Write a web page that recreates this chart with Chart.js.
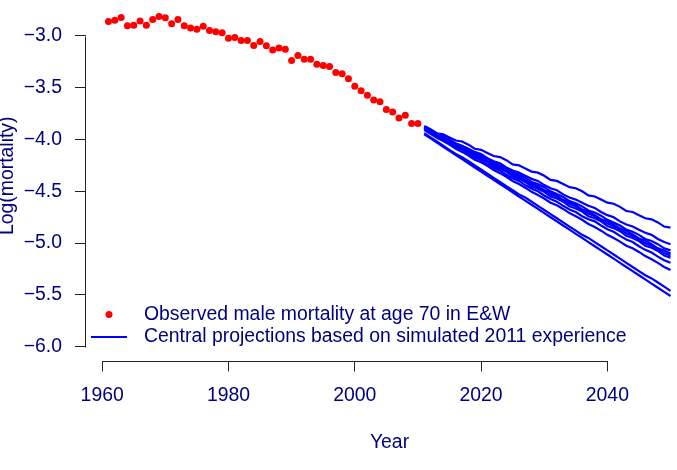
<!DOCTYPE html>
<html>
<head>
<meta charset="utf-8">
<script src="https://cdn.jsdelivr.net/npm/chart.js@4.4.1/dist/chart.umd.min.js"></script>
<style>
  html, body { margin: 0; padding: 0; background: #fff; overflow: hidden; }
  #wrap { position: absolute; left: 0; top: -13px; width: 720px; height: 483px; }
</style>
</head>
<body>
<div id="wrap"><canvas id="chartCanvas" width="720" height="483"></canvas></div>
<script>
// observed log mortality, male age 70, E&W
const obsYears = [1961, 1962, 1963, 1964, 1965, 1966, 1967, 1968, 1969, 1970,
  1971, 1972, 1973, 1974, 1975, 1976, 1977, 1978, 1979, 1980,
  1981, 1982, 1983, 1984, 1985, 1986, 1987, 1988, 1989, 1990,
  1991, 1992, 1993, 1994, 1995, 1996, 1997, 1998, 1999, 2000,
  2001, 2002, 2003, 2004, 2005, 2006, 2007, 2008, 2009, 2010];
const obsValues = [-2.861, -2.851, -2.823, -2.902, -2.899, -2.857, -2.899, -2.842, -2.813, -2.825,
  -2.883, -2.844, -2.902, -2.924, -2.937, -2.908, -2.949, -2.962, -2.971, -3.023,
  -3.016, -3.045, -3.045, -3.093, -3.054, -3.097, -3.137, -3.118, -3.131, -3.239,
  -3.191, -3.226, -3.226, -3.274, -3.286, -3.296, -3.353, -3.366, -3.414, -3.487,
  -3.531, -3.573, -3.620, -3.636, -3.710, -3.735, -3.792, -3.767, -3.846, -3.846];

// projection years
const projYears = [2011, 2012, 2013, 2014, 2015, 2016, 2017, 2018, 2019, 2020,
  2021, 2022, 2023, 2024, 2025, 2026, 2027, 2028, 2029, 2030,
  2031, 2032, 2033, 2034, 2035, 2036, 2037, 2038, 2039, 2040,
  2041, 2042, 2043, 2044, 2045, 2046, 2047, 2048, 2049, 2050];

// central projections, one per simulated 2011 experience
const proj1 = [-3.87, -3.90, -3.94, -3.95, -3.98, -4.01, -4.02, -4.05, -4.09, -4.10, -4.13, -4.16, -4.17, -4.20, -4.24, -4.25, -4.28, -4.31, -4.32, -4.35,
  -4.39, -4.40, -4.43, -4.46, -4.47, -4.50, -4.54, -4.55, -4.58, -4.61, -4.62, -4.65, -4.69, -4.70, -4.73, -4.76, -4.77, -4.80, -4.84, -4.85];
const proj2 = [-3.88, -3.92, -3.95, -3.97, -4.01, -4.04, -4.06, -4.09, -4.12, -4.14, -4.18, -4.21, -4.23, -4.27, -4.30, -4.32, -4.35, -4.38, -4.40, -4.44,
  -4.47, -4.49, -4.53, -4.56, -4.58, -4.61, -4.64, -4.66, -4.70, -4.73, -4.75, -4.79, -4.82, -4.84, -4.87, -4.90, -4.92, -4.96, -4.99, -5.01];
const proj3 = [-3.88, -3.91, -3.95, -3.97, -4.00, -4.04, -4.065, -4.095, -4.135, -4.155, -4.185, -4.225, -4.25, -4.28, -4.32, -4.34, -4.37, -4.41, -4.43, -4.46,
  -4.50, -4.525, -4.555, -4.595, -4.615, -4.645, -4.685, -4.705, -4.735, -4.775, -4.80, -4.83, -4.87, -4.89, -4.92, -4.96, -4.98, -5.01, -5.05, -5.07];
const proj4 = [-3.89, -3.93, -3.95, -3.985, -4.025, -4.045, -4.075, -4.115, -4.135, -4.17, -4.21, -4.23, -4.265, -4.305, -4.325, -4.355, -4.395, -4.415, -4.45, -4.49,
  -4.51, -4.545, -4.585, -4.605, -4.635, -4.675, -4.695, -4.73, -4.77, -4.79, -4.82, -4.86, -4.88, -4.915, -4.955, -4.975, -5.01, -5.05, -5.07, -5.10];
const proj5 = [-3.89, -3.925, -3.96, -3.985, -4.02, -4.055, -4.08, -4.115, -4.15, -4.175, -4.21, -4.245, -4.27, -4.305, -4.34, -4.365, -4.40, -4.435, -4.46, -4.495,
  -4.53, -4.55, -4.585, -4.62, -4.645, -4.68, -4.715, -4.74, -4.775, -4.81, -4.835, -4.87, -4.905, -4.93, -4.965, -5.00, -5.025, -5.06, -5.095, -5.12];
const proj6 = [-3.90, -3.93, -3.975, -3.995, -4.025, -4.07, -4.09, -4.12, -4.165, -4.185, -4.215, -4.26, -4.28, -4.31, -4.355, -4.38, -4.41, -4.455, -4.475, -4.505,
  -4.55, -4.57, -4.60, -4.645, -4.665, -4.695, -4.74, -4.76, -4.79, -4.835, -4.855, -4.885, -4.93, -4.95, -4.98, -5.025, -5.045, -5.075, -5.12, -5.14];
const proj7 = [-3.90, -3.94, -3.975, -4.00, -4.04, -4.075, -4.10, -4.14, -4.175, -4.20, -4.24, -4.275, -4.30, -4.34, -4.375, -4.40, -4.44, -4.475, -4.50, -4.54,
  -4.575, -4.60, -4.64, -4.675, -4.70, -4.74, -4.77, -4.79, -4.83, -4.865, -4.89, -4.93, -4.965, -4.99, -5.03, -5.065, -5.09, -5.13, -5.165, -5.19];
const proj8 = [-3.91, -3.945, -3.985, -4.015, -4.05, -4.09, -4.12, -4.155, -4.195, -4.22, -4.255, -4.295, -4.325, -4.36, -4.40, -4.43, -4.465, -4.505, -4.535, -4.57,
  -4.61, -4.635, -4.67, -4.71, -4.74, -4.775, -4.815, -4.845, -4.88, -4.92, -4.95, -4.985, -5.025, -5.05, -5.085, -5.125, -5.155, -5.19, -5.23, -5.26];
const proj9 = [-3.94, -3.98, -4.02, -4.06, -4.10, -4.14, -4.17, -4.21, -4.25, -4.29, -4.33, -4.37, -4.41, -4.45, -4.49, -4.53, -4.56, -4.60, -4.64, -4.68,
  -4.72, -4.76, -4.80, -4.84, -4.88, -4.92, -4.95, -4.99, -5.03, -5.07, -5.11, -5.15, -5.19, -5.23, -5.27, -5.31, -5.34, -5.38, -5.42, -5.46];
const proj10 = [-3.95, -3.99, -4.03, -4.07, -4.11, -4.15, -4.19, -4.23, -4.27, -4.31, -4.35, -4.39, -4.43, -4.47, -4.51, -4.55, -4.59, -4.63, -4.67, -4.71,
  -4.75, -4.79, -4.83, -4.87, -4.91, -4.95, -4.99, -5.03, -5.07, -5.11, -5.15, -5.19, -5.23, -5.27, -5.31, -5.35, -5.39, -5.43, -5.47, -5.51];

const xTicks = [1960, 1980, 2000, 2020, 2040];
const yTicks = [-3.0, -3.5, -4.0, -4.5, -5.0, -5.5, -6.0];
const yTickLabels = ["\u22123.0", "\u22123.5", "\u22124.0", "\u22124.5", "\u22125.0", "\u22125.5", "\u22126.0"];

const obsLabel = "Observed male mortality at age 70 in E&W";
const projLabel = "Central projections based on simulated 2011 experience";

document.addEventListener("DOMContentLoaded", () => {
  const ctx = document.getElementById("chartCanvas").getContext("2d");
  const textColor = "#000080";
  const axisColor = "#222222";
  const red = "#FF0000";
  const blue = "#0000FF";
  const font = "'Liberation Sans', Arial, sans-serif";
  const fontSize = 19.4;

  const projections = [proj1, proj2, proj3, proj4, proj5, proj6, proj7, proj8, proj9, proj10];

  const datasets = [
    {
      label: obsLabel,
      data: obsYears.map((yr, i) => ({ x: yr, y: obsValues[i] })),
      backgroundColor: red,
      borderWidth: 0,
      pointRadius: 3.5,
      showLine: false,
    },
  ];
  projections.forEach((arr, k) => {
    datasets.push({
      label: k === 0 ? projLabel : "",
      data: projYears.map((yr, i) => ({ x: yr, y: arr[i] })),
      borderColor: blue,
      borderWidth: 2.2,
      pointRadius: 0,
      showLine: true,
      tension: 0,
    });
  });

  // no extra room for the outer tick labels, the plot area is fixed
  const noPadding = (scale) => {
    scale.paddingTop = 0;
    scale.paddingBottom = 0;
    scale.paddingLeft = 0;
    scale.paddingRight = 0;
  };

  // R style axis lines: only between first and last tick
  const axisLines = {
    id: "axisLines",
    afterDraw(chart) {
      const { ctx, chartArea, scales } = chart;
      ctx.save();
      ctx.strokeStyle = axisColor;
      ctx.lineWidth = 1;
      ctx.beginPath();
      const xl = Math.round(chartArea.left) - 0.5;
      ctx.moveTo(xl, Math.round(scales.y.getPixelForValue(yTicks[0])) + 0.5);
      ctx.lineTo(xl, Math.round(scales.y.getPixelForValue(yTicks[yTicks.length - 1])) + 0.5);
      const yb = Math.round(chartArea.bottom) + 0.5;
      ctx.moveTo(Math.round(scales.x.getPixelForValue(xTicks[0])) + 0.5, yb);
      ctx.lineTo(Math.round(scales.x.getPixelForValue(xTicks[xTicks.length - 1])) + 0.5, yb);
      ctx.stroke();
      ctx.restore();
    },
  };

  // legend in bottom left corner of the plot
  const rLegend = {
    id: "rLegend",
    afterDraw(chart) {
      const { ctx, chartArea } = chart;
      const x0 = chartArea.left;
      const y1 = chartArea.bottom - 46;
      const y2 = chartArea.bottom - 23.5;
      ctx.save();
      ctx.fillStyle = red;
      ctx.beginPath();
      ctx.arc(x0 + 23, y1, 3.5, 0, Math.PI * 2);
      ctx.fill();
      ctx.strokeStyle = blue;
      ctx.lineWidth = 2.2;
      ctx.beginPath();
      ctx.moveTo(x0 + 5, y2);
      ctx.lineTo(x0 + 41, y2);
      ctx.stroke();
      ctx.fillStyle = textColor;
      ctx.font = fontSize + "px " + font;
      ctx.textBaseline = "middle";
      ctx.fillText(chart.data.datasets[0].label, x0 + 58, y1);
      ctx.fillText(chart.data.datasets[1].label, x0 + 58, y2);
      ctx.restore();
    },
  };

  new Chart(ctx, {
    type: "scatter",
    data: { datasets },
    options: {
      responsive: false,
      devicePixelRatio: 1,
      animation: false,
      layout: { padding: { left: 0, top: 0, right: 27, bottom: 0 } },
      plugins: {
        legend: { display: false },
        tooltip: { enabled: false },
      },
      scales: {
        x: {
          type: "linear",
          min: 1957.44,
          max: 2053.56,
          afterBuildTicks: (scale) => {
            scale.ticks = xTicks.map((v) => ({ value: v }));
          },
          afterFit: (scale) => {
            scale.height = 109.5;
            noPadding(scale);
          },
          border: { display: false },
          grid: { drawOnChartArea: false, drawTicks: true, tickLength: 11, color: axisColor },
          ticks: {
            color: textColor,
            font: { family: font, size: fontSize },
            padding: 13,
            autoSkip: false,
            maxRotation: 0,
            callback: (v) => String(v),
          },
          title: {
            display: true,
            text: "Year",
            color: textColor,
            font: { family: font, size: fontSize },
            padding: { top: 0, bottom: 16 },
          },
        },
        y: {
          type: "linear",
          min: -6.132,
          max: -2.568,
          afterBuildTicks: (scale) => {
            scale.ticks = yTicks.map((v) => ({ value: v }));
          },
          afterFit: (scale) => {
            scale.width = 86;
            noPadding(scale);
          },
          border: { display: false },
          grid: { drawOnChartArea: false, drawTicks: true, tickLength: 11, color: axisColor },
          ticks: {
            color: textColor,
            font: { family: font, size: fontSize },
            padding: 13,
            callback: (v, i) => yTickLabels[i],
          },
          title: {
            display: true,
            text: "Log(mortality)",
            color: textColor,
            font: { family: font, size: fontSize },
            padding: { top: -4.4, bottom: 0 },
          },
        },
      },
    },
    plugins: [axisLines, rLegend],
  });
});
</script>
</body>
</html>
